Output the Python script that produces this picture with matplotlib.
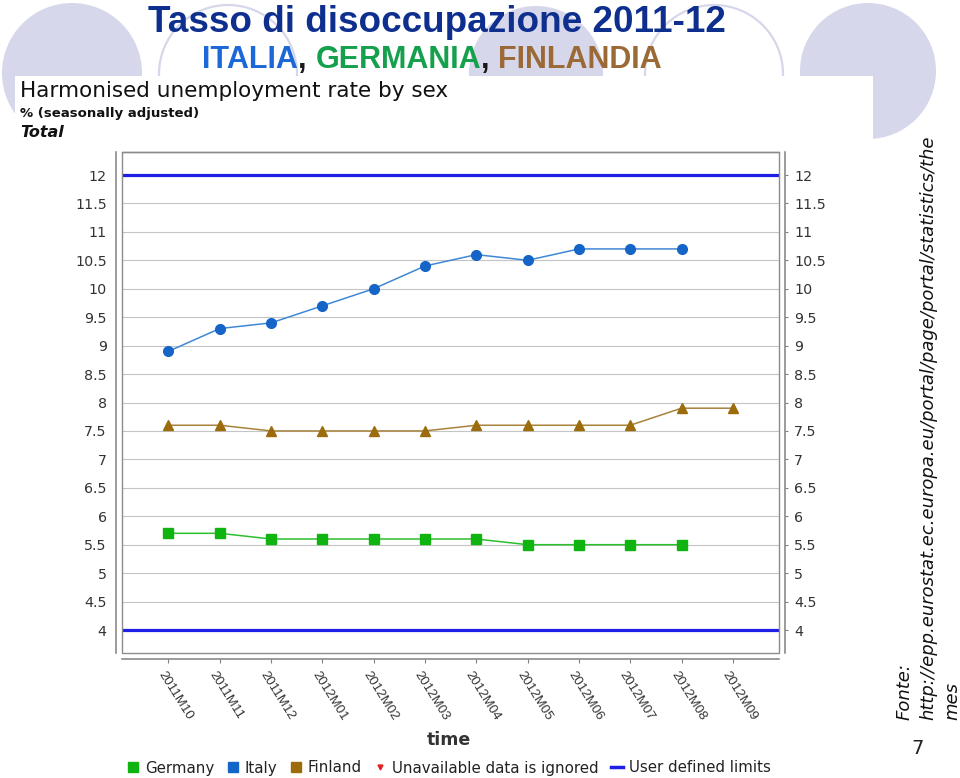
import matplotlib
matplotlib.use("Agg")
import matplotlib.pyplot as plt
from matplotlib.patches import Circle, Rectangle
from matplotlib.lines import Line2D
from matplotlib.transforms import ScaledTranslation
import numpy as np

W, H = 960, 778

# data
months = ['2011M10', '2011M11', '2011M12', '2012M01', '2012M02', '2012M03',
          '2012M04', '2012M05', '2012M06', '2012M07', '2012M08', '2012M09']
italy = [8.9, 9.3, 9.4, 9.7, 10.0, 10.4, 10.6, 10.5, 10.7, 10.7, 10.7]
finland = [7.6, 7.6, 7.5, 7.5, 7.5, 7.5, 7.6, 7.6, 7.6, 7.6, 7.9, 7.9]
germany = [5.7, 5.7, 5.6, 5.6, 5.6, 5.6, 5.6, 5.5, 5.5, 5.5, 5.5]
limits = [4, 12]
yticks = np.arange(4, 12.01, 0.5)

def fx(x):
    return x / W

def fy(y):
    return 1 - y / H

fig = plt.figure(figsize=(9.6, 7.78), dpi=100)

# slide background: circles + white chart picture
bg = fig.add_axes([0, 0, 1, 1], zorder=-5)
bg.set_xlim(0, W)
bg.set_ylim(H, 0)
bg.axis('off')
lav = '#d7d7ec'
for cx, cy, r in [(72, 73, 70), (536, 73, 67), (868, 71, 68)]:
    bg.add_patch(Circle((cx, cy), r, facecolor=lav, edgecolor='none'))
for cx, cy, r in [(228, 74, 69), (714, 74, 69)]:
    bg.add_patch(Circle((cx, cy), r, facecolor='none', edgecolor=lav, lw=1.6))
bg.add_patch(Rectangle((15, 76), 858, 702, facecolor='white', edgecolor='none'))

# titles
fig.text(fx(437), fy(32), 'Tasso di disoccupazione 2011-12', family='Liberation Sans',
         weight='bold', fontsize=26.6, color='#0e2f8e', ha='center', va='baseline')

sub_kw = dict(family='Liberation Sans', weight='bold', fontsize=22, va='baseline')
renderer = fig.canvas.get_renderer()

def width_px(s):
    t = fig.text(0, 0, s, **sub_kw)
    w = t.get_window_extent(renderer).width
    t.remove()
    return w

full = 'ITALIA, GERMANIA, FINLANDIA'
x0 = 432 - width_px(full) / 2
ybase = fy(68)
fig.text(fx(x0), ybase, 'ITALIA', color='#1c68d8', ha='left', **sub_kw)
fig.text(fx(x0 + width_px('ITALIA')), ybase, ',', color='#1a1a1a', ha='left', **sub_kw)
g_end = x0 + width_px('ITALIA, GERMANIA')
fig.text(fx(g_end), ybase, 'GERMANIA', color='#14a04c', ha='right', **sub_kw)
fig.text(fx(g_end), ybase, ',', color='#1a1a1a', ha='left', **sub_kw)
fig.text(fx(x0 + width_px(full)), ybase, 'FINLANDIA', color='#9a6935', ha='right', **sub_kw)

# chart header
fig.text(fx(20), fy(97), 'Harmonised unemployment rate by sex', fontsize=15.5,
         color='#111111', ha='left', va='baseline')
fig.text(fx(20), fy(117), '% (seasonally adjusted)', fontsize=9.5, weight='bold',
         color='#111111', ha='left', va='baseline')
fig.text(fx(20), fy(137), 'Total', fontsize=11.5, weight='bold', style='italic',
         color='#111111', ha='left', va='baseline')

# main chart
ax = fig.add_axes([fx(122), fy(653), fx(779) - fx(122), fy(152) - fy(653)])
ax.set_facecolor('white')

# spines first: set_position resets the ticks
spine_c = '#808080'
for s in ['left', 'right', 'bottom']:
    ax.spines[s].set_position(('outward', 4.5))
    ax.spines[s].set_color(spine_c)
    ax.spines[s].set_linewidth(1.1)
ax.spines['top'].set_color(spine_c)
ax.spines['top'].set_linewidth(1.0)
ax.add_patch(Rectangle((0, 0), 1, 1, transform=ax.transAxes, fill=False,
                       edgecolor='#8c8c8c', lw=1.0, zorder=4, clip_on=False))

ax.set_xlim(-0.906, 11.9)
ax.set_ylim(4 - 23 / 56.875, 12 + 23 / 56.875)

ax.tick_params(axis='y', which='both', left=False, right=True, labelleft=True,
               labelright=True, length=2.5, pad=4, color=spine_c,
               labelsize=10.3, labelcolor='#333333')
ax.tick_params(axis='x', length=3, color=spine_c, pad=5)

ax.set_yticks(yticks)
ax.set_yticklabels(['%g' % v for v in yticks])
ax.grid(axis='y', color='#c4c4c4', lw=0.8)
ax.set_axisbelow(True)

for v in limits:
    ax.axhline(v, color='#1e1ee6', lw=2.3, zorder=2)

ax.plot(range(len(italy)), italy, color='#3f88d6', lw=1.1, marker='o', ms=7,
        mfc='#1565c8', mec='#1565c8', zorder=3)
ax.plot(range(len(finland)), finland, color='#a8823c', lw=1.1, marker='^', ms=7,
        mfc='#9c6c0c', mec='#9c6c0c', zorder=3)
ax.plot(range(len(germany)), germany, color='#2cc02c', lw=1.1, marker='s', ms=7,
        mfc='#10b410', mec='#10b410', zorder=3)

ax.set_xticks(range(len(months)))
ax.set_xticklabels(months, rotation=-58, ha='left', va='center',
                   rotation_mode='anchor', fontsize=9.5, family='Liberation Sans',
                   color='#333333')
shift = ScaledTranslation(-8 / 100, -2 / 100, fig.dpi_scale_trans)
for lab in ax.get_xticklabels():
    lab.set_transform(lab.get_transform() + shift)

fig.text(fx(449), fy(740), 'time', fontsize=12.5, weight='bold', color='#333333',
         ha='center', va='center')

# legend
handles = [
    Line2D([], [], ls='none', marker='s', ms=7, mfc='#10b410', mec='#10b410'),
    Line2D([], [], ls='none', marker='s', ms=7, mfc='#1565c8', mec='#1565c8'),
    Line2D([], [], ls='none', marker='s', ms=7, mfc='#9c6c0c', mec='#9c6c0c'),
    Line2D([], [], ls='none', marker='v', ms=3.5, mfc='#e02020', mec='#e02020'),
    Line2D([], [], color='#1e1ee6', lw=2.5),
]
labels = ['Germany', 'Italy', 'Finland', 'Unavailable data is ignored', 'User defined limits']
fig.legend(handles, labels, ncol=5, loc='center', bbox_to_anchor=(fx(449), fy(768)),
           frameon=False, fontsize=10.8, handlelength=0.8, handletextpad=0.4,
           columnspacing=0.83, borderpad=0, labelcolor='#222222')

# source note on the right, rotated
src_kw = dict(rotation=90, style='italic', fontsize=13, color='#111111',
              ha='center', va='bottom')
fig.text(fx(905), fy(720), 'Fonte:', **src_kw)
fig.text(fx(928), fy(720), 'http://epp.eurostat.ec.europa.eu/portal/page/portal/statistics/the', **src_kw)
fig.text(fx(952), fy(720), 'mes', **src_kw)
fig.text(fx(918), fy(748), '7', fontsize=14, color='#222222', ha='center', va='center')

fig.savefig('out.png', dpi=100)
